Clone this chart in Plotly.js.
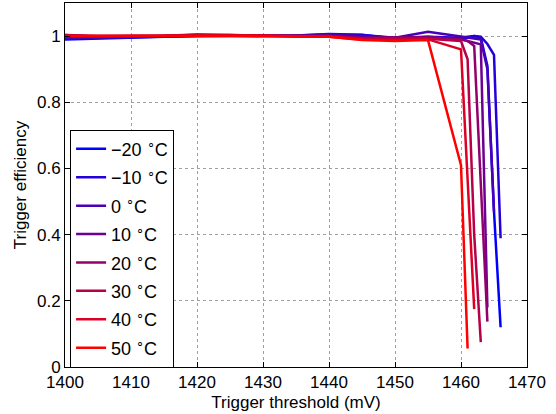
<!DOCTYPE html>
<html>
<head>
<meta charset="utf-8">
<script src="https://cdn.plot.ly/plotly-3.0.1.min.js"></script>
<style>html,body{margin:0;padding:0;background:#fff;}#chart{width:556px;height:414px;}</style>
</head>
<body>
<div id="chart"></div>
<script>
// Shared threshold steps (mV)
const thresholdsBase = [1400,1405,1410,1415,1420,1425,1430,1435,1440,1445,1450,1455,1460,1461,1462,1463,1464,1465,1466];
const temperatures = ["−20","−10","0","10","20","30","40","50"];

const effM20 = [0.990,0.993,0.997,0.998,1.000,1.000,1.000,1.001,1.004,1.003,0.995,0.995,0.990,0.995,1.000,0.995,0.91,0.47,0.12];
const effM10 = [0.993,0.995,0.998,0.999,1.000,1.001,1.000,1.002,1.006,1.004,0.992,0.998,0.995,0.998,1.000,0.998,0.976,0.943,0.389];
const effP0  = [0.995,0.997,0.998,1.000,1.002,1.002,1.001,1.002,1.005,1.000,0.995,1.013,0.998,0.995,0.993,0.990,0.90,0.47];
const effP10 = [1.000,0.997,0.999,1.000,1.003,1.002,1.000,1.001,1.000,0.995,0.995,0.998,0.990,0.985,0.980,0.975,0.18];
const effP20 = [1.003,0.998,1.000,1.000,1.004,1.002,1.000,1.000,1.000,0.994,0.996,0.995,0.990,0.985,0.970,0.56,0.137];
const effP30 = [1.003,1.000,1.000,1.001,1.005,1.003,1.000,0.999,1.000,0.993,0.993,0.992,0.985,0.93,0.40,0.075];
const effP40 = [1.000,1.000,1.000,1.000,1.002,1.003,1.000,0.999,0.998,0.990,0.988,0.990,0.960,0.57,0.175];
const effP50 = [1.000,1.000,1.000,1.000,1.001,1.002,1.000,1.000,0.998,0.988,0.985,0.988,0.61,0.056];

const series = [effM20,effM10,effP0,effP10,effP20,effP30,effP40,effP50];
const colors = ["rgb(0,0,255)","rgb(36,0,219)","rgb(73,0,182)","rgb(109,0,146)","rgb(146,0,109)","rgb(182,0,73)","rgb(219,0,36)","rgb(255,0,0)"];

const traces = series.map((ys,i)=>({
  x: thresholdsBase.slice(0, ys.length),
  y: ys,
  type: 'scatter',
  mode: 'lines',
  name: temperatures[i] + ' <sup>∘</sup>C',
  legendgroup: 'g' + i,
  line: {color: colors[i], width: 2.5}
}));

const FONT = "'Liberation Sans', Arial, Helvetica, sans-serif";
const axisCommon = {
  showline: true, linecolor: '#000', linewidth: 1, mirror: 'allticks',
  ticks: 'inside', ticklen: 5, tickcolor: '#000',
  showgrid: true, gridcolor: '#a0a0a0', griddash: 'dot', gridwidth: 1,
  zeroline: false,
  tickfont: {family: FONT, size: 17, color: '#000'}
};

const layout = {
  width: 556, height: 414,
  margin: {l: 65, r: 29, t: 3, b: 47},
  paper_bgcolor: '#fff', plot_bgcolor: '#fff',
  font: {family: FONT, size: 17, color: '#000'},
  showlegend: true,
  legend: {
    x: 0.011, y: 0.652, xanchor: 'left', yanchor: 'top',
    bgcolor: '#fff', bordercolor: '#000', borderwidth: 1,
    font: {family: FONT, size: 18, color: '#000'},
    itemwidth: 30, tracegroupgap: 2
  },
  xaxis: Object.assign({}, axisCommon, {
    range: [1400, 1470], tickmode: 'linear', tick0: 1400, dtick: 10,
    title: {text: 'Trigger threshold (mV)', font: {family: FONT, size: 17, color: '#000'}, standoff: 4}
  }),
  yaxis: Object.assign({}, axisCommon, {
    range: [0, 1.1], tickmode: 'array', tickvals: [0,0.2,0.4,0.6,0.8,1], ticktext: ['0','0.2','0.4','0.6','0.8','1'],
    title: {text: 'Trigger efficiency', font: {family: FONT, size: 17, color: '#000'}, standoff: 6}
  })
};

Plotly.newPlot('chart', traces, layout, {displayModeBar: false, staticPlot: true});
</script>
</body>
</html>
